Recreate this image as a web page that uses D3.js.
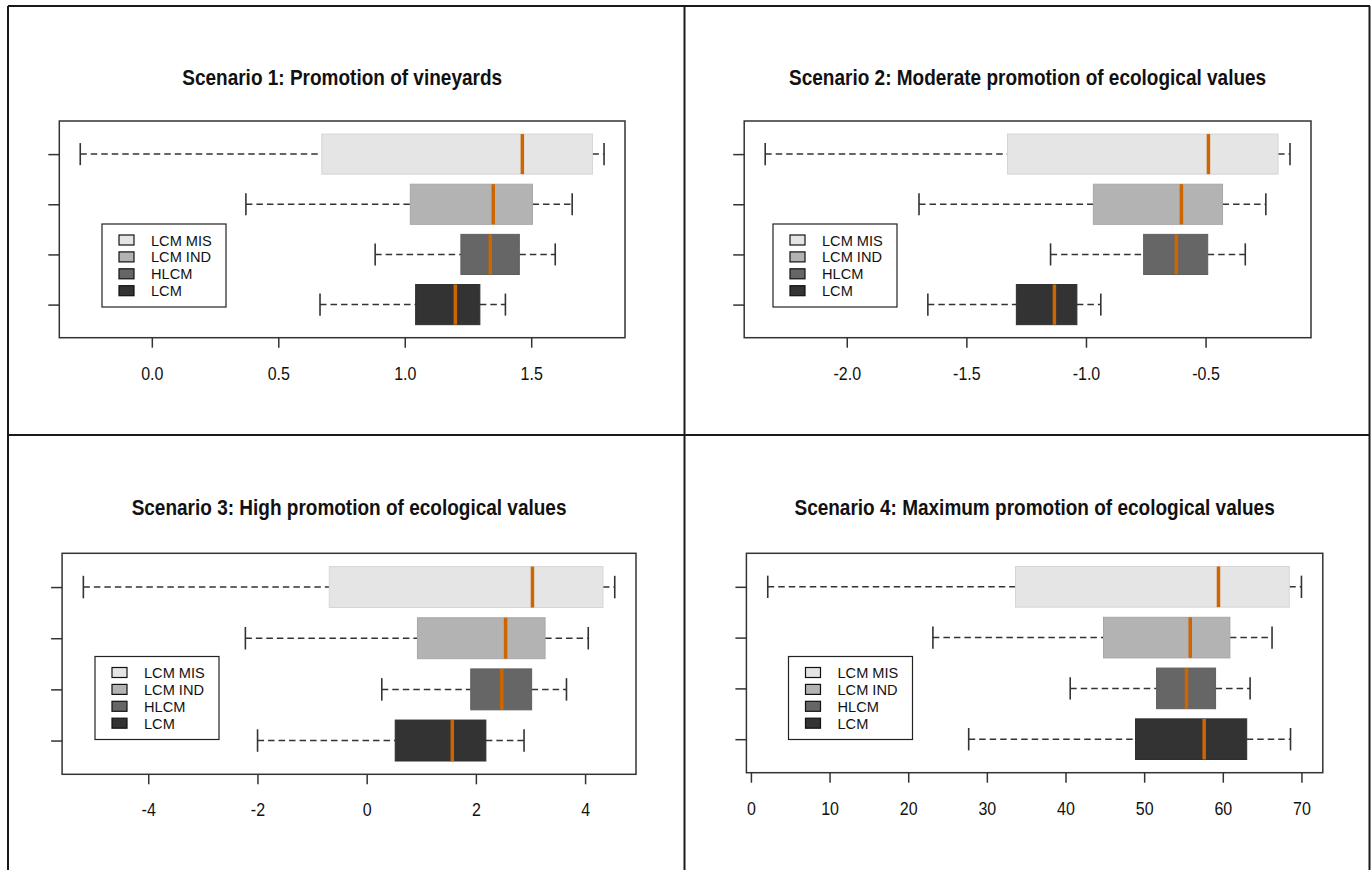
<!DOCTYPE html>
<html>
<head>
<meta charset="utf-8">
<script src="https://cdn.jsdelivr.net/npm/d3@7/dist/d3.min.js"></script>
<style>
  html, body { margin: 0; padding: 0; background: #ffffff; }
  svg { display: block; font-family: "Liberation Sans", Arial, sans-serif; }
</style>
</head>
<body>
<svg id="chart" width="1372" height="870"></svg>
<script>
// ---------------- DATA ----------------
// categories, bottom (position 1) to top (position 4)
const categories = ["LCM", "HLCM", "LCM IND", "LCM MIS"];
const legendLabels = ["LCM MIS", "LCM IND", "HLCM", "LCM"];
const boxFills = ["#333333", "#666666", "#b3b3b3", "#e5e5e5"];
const legendFills = ["#e5e5e5", "#b3b3b3", "#666666", "#333333"];

const titles = [
  "Scenario 1: Promotion of vineyards",
  "Scenario 2: Moderate promotion of ecological values",
  "Scenario 3: High promotion of ecological values",
  "Scenario 4: Maximum promotion of ecological values"
];

// [lower whisker, Q1, median, Q3, upper whisker] for LCM, HLCM, LCM IND, LCM MIS
const scenario1 = [
  [0.665, 1.043, 1.200, 1.297, 1.398],
  [0.883, 1.222, 1.338, 1.453, 1.595],
  [0.372, 1.022, 1.350, 1.505, 1.662],
  [-0.283, 0.672, 1.465, 1.742, 1.788]
];
const scenario2 = [
  [-1.661, -1.291, -1.132, -1.038, -0.938],
  [-1.148, -0.759, -0.622, -0.491, -0.334],
  [-1.698, -0.969, -0.601, -0.429, -0.248],
  [-2.341, -1.328, -0.488, -0.197, -0.147]
];
const scenario3 = [
  [-1.998, 0.523, 1.568, 2.183, 2.882],
  [0.277, 1.906, 2.475, 3.021, 3.659],
  [-2.221, 0.930, 2.544, 3.267, 4.058],
  [-5.188, -0.684, 3.036, 4.327, 4.543]
];
const scenario4 = [
  [27.69, 48.90, 57.63, 63.04, 68.61],
  [40.60, 51.58, 55.38, 59.08, 63.47],
  [23.14, 44.83, 55.86, 60.90, 66.26],
  [2.14, 33.64, 59.45, 68.45, 70.00]
];

const ticks1 = [0, 0.5, 1, 1.5];
const tickLabels1 = ["0.0", "0.5", "1.0", "1.5"];
const ticks2 = [-2, -1.5, -1, -0.5];
const tickLabels2 = ["-2.0", "-1.5", "-1.0", "-0.5"];
const ticks3 = [-4, -2, 0, 2, 4];
const tickLabels3 = ["-4", "-2", "0", "2", "4"];
const ticks4 = [0, 10, 20, 30, 40, 50, 60, 70];
const tickLabels4 = ["0", "10", "20", "30", "40", "50", "60", "70"];

// ---------------- LAYOUT ----------------
const panels = [
  { stats: scenario1, ticks: ticks1, labels: tickLabels1, title: titles[0],
    x0: 59.3, x1: 625, y0: 121, y1: 337.7, lx: 102, ly: 224, ty: 85 },
  { stats: scenario2, ticks: ticks2, labels: tickLabels2, title: titles[1],
    x0: 744.2, x1: 1311, y0: 121, y1: 337.7, lx: 773, ly: 224, ty: 85 },
  { stats: scenario3, ticks: ticks3, labels: tickLabels3, title: titles[2],
    x0: 62.1, x1: 636, y0: 553.3, y1: 774.3, lx: 95, ly: 656.5, ty: 515 },
  { stats: scenario4, ticks: ticks4, labels: tickLabels4, title: titles[3],
    x0: 746.4, x1: 1322.8, y0: 553.3, y1: 772.7, lx: 788.5, ly: 656.5, ty: 515 }
];

const STRETCH = 1.15;   // the reference text is slightly taller than wide
const svg = d3.select("#chart");
const frameColor = "#1a1a1a";

function stretchedText(parent, x, y, str, k) {
  return parent.append("text")
    .attr("transform", `translate(${x},${y}) scale(1,${k})`)
    .text(str);
}

// outer frame and dividers
const frame = svg.append("g").attr("stroke", frameColor).attr("stroke-width", 2).attr("fill", "none");
frame.append("line").attr("x1", 8).attr("x2", 8).attr("y1", 6).attr("y2", 870);
frame.append("line").attr("x1", 8).attr("x2", 1370).attr("y1", 6).attr("y2", 6);
frame.append("line").attr("x1", 1369.5).attr("x2", 1369.5).attr("y1", 6).attr("y2", 870);
frame.append("line").attr("x1", 684.5).attr("x2", 684.5).attr("y1", 6).attr("y2", 870);
frame.append("line").attr("x1", 8).attr("x2", 1370).attr("y1", 435).attr("y2", 435);

panels.forEach(p => {
  const g = svg.append("g");
  const allVals = p.stats.flat();
  const mn = d3.min(allVals), mx = d3.max(allVals);
  const pad = (mx - mn) * 0.04;
  const x = d3.scaleLinear().domain([mn - pad, mx + pad]).range([p.x0, p.x1]);
  const y = d3.scaleLinear().domain([0.34, 4.66]).range([p.y1, p.y0]);
  const bw = (y(0) - y(0.8));           // box thickness (0.8 units)
  const cap = bw * 0.55;

  // title
  stretchedText(g, (p.x0 + p.x1) / 2, p.ty, p.title, STRETCH)
    .attr("text-anchor", "middle")
    .attr("font-weight", "bold").attr("font-size", 19)
    .attr("fill", "#111");

  // boxes
  p.stats.forEach((s, i) => {
    const cy = y(i + 1);
    const [lo, q1, md, q3, hi] = s;
    const bg = g.append("g");
    // whiskers
    bg.append("line").attr("x1", x(lo)).attr("x2", x(q1)).attr("y1", cy).attr("y2", cy)
      .attr("stroke", "#333").attr("stroke-width", 1.5).attr("stroke-dasharray", "6.5,4");
    bg.append("line").attr("x1", x(q3)).attr("x2", x(hi)).attr("y1", cy).attr("y2", cy)
      .attr("stroke", "#333").attr("stroke-width", 1.5).attr("stroke-dasharray", "6.5,4");
    // caps
    [lo, hi].forEach(v => {
      bg.append("line").attr("x1", x(v)).attr("x2", x(v))
        .attr("y1", cy - cap / 2).attr("y2", cy + cap / 2)
        .attr("stroke", "#333").attr("stroke-width", 1.6);
    });
    // box
    bg.append("rect")
      .attr("x", x(q1)).attr("y", cy - bw / 2)
      .attr("width", x(q3) - x(q1)).attr("height", bw)
      .attr("fill", boxFills[i])
      .attr("stroke", d3.color(boxFills[i]).darker(0.2))
      .attr("stroke-width", 1);
    // median
    bg.append("line").attr("x1", x(md)).attr("x2", x(md))
      .attr("y1", cy - bw / 2).attr("y2", cy + bw / 2)
      .attr("stroke", "#cd6600").attr("stroke-width", 3.5);
  });

  // plot box
  g.append("rect")
    .attr("x", p.x0).attr("y", p.y0)
    .attr("width", p.x1 - p.x0).attr("height", p.y1 - p.y0)
    .attr("fill", "none").attr("stroke", "#333").attr("stroke-width", 1.5);

  // x axis
  const xAxis = d3.axisBottom(x).tickValues(p.ticks)
    .tickFormat((d, i) => p.labels[i]).tickSize(10);
  const ax = g.append("g").attr("transform", `translate(0,${p.y1})`).call(xAxis);
  ax.select(".domain").remove();
  ax.selectAll(".tick line").attr("stroke", "#333").attr("stroke-width", 1.5);
  ax.selectAll(".tick text")
    .attr("y", null).attr("dy", null)
    .attr("transform", `translate(0,42) scale(1,${STRETCH})`)
    .attr("font-size", 16).attr("fill", "#111")
    .attr("font-family", "'Liberation Sans', Arial, sans-serif");

  // y axis (ticks only, no labels)
  const yAxis = d3.axisLeft(y).tickValues([1, 2, 3, 4]).tickFormat("").tickSize(11);
  const ay = g.append("g").attr("transform", `translate(${p.x0},0)`).call(yAxis);
  ay.select(".domain").remove();
  ay.selectAll(".tick line").attr("stroke", "#333").attr("stroke-width", 1.5);

  // legend
  const lg = g.append("g").attr("transform", `translate(${p.lx},${p.ly})`);
  lg.append("rect").attr("x", 0).attr("y", 0).attr("width", 124).attr("height", 83)
    .attr("fill", "#fff").attr("stroke", "#222").attr("stroke-width", 1.2);
  legendLabels.forEach((lab, i) => {
    const cy = 16 + i * 16.9;
    lg.append("rect").attr("x", 17).attr("y", cy - 5).attr("width", 15).attr("height", 10)
      .attr("fill", legendFills[i]).attr("stroke", "#111").attr("stroke-width", 1.2);
    stretchedText(lg, 49, cy + 5.5, lab, 1.0)
      .attr("font-size", 14.6).attr("textLength", null).attr("fill", "#111");
  });
});
</script>
</body>
</html>
